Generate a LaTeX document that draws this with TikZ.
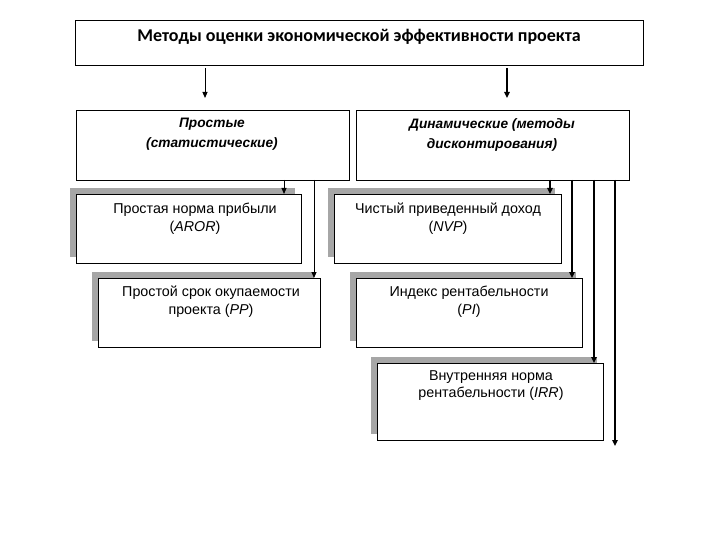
\documentclass[tikz,border=0pt]{standalone}
\usepackage{fontspec}
\setmainfont{Liberation Sans}
\newfontfamily\titlefont{Carlito}
\usetikzlibrary{shadows,arrows.meta}
\definecolor{shgray}{HTML}{A6A6A6}
\begin{document}
\begin{tikzpicture}[x=1pt,y=-1pt,
  box/.style={draw=black,line width=0.9pt,fill=white,rectangle,inner sep=0pt,outer sep=0pt},
  sbox/.style={box,drop shadow={shadow xshift=-6pt,shadow yshift=6pt,fill=shgray,opacity=1}},
  txt/.style={inner sep=0pt,anchor=north,align=center,font=\fontsize{14.3}{17.5}\selectfont},
  head/.style={inner sep=0pt,anchor=north,align=center,font=\fontsize{13.7}{20}\selectfont\bfseries\itshape},
  thinarr/.style={line width=1pt,-{Triangle[length=6pt,width=5pt]}},
  thickarr/.style={line width=2pt,-{Triangle[length=6pt,width=5.5pt]}}
]
\useasboundingbox (0,0) rectangle (720,540);
% boxes
\node[box,minimum width=568pt,minimum height=45pt] (top) at (359,42.5) {};
\node[box,minimum width=273pt,minimum height=70pt] (simple) at (212.5,145) {};
\node[box,minimum width=273pt,minimum height=70pt] (dyn) at (492.5,145) {};
\node[sbox,minimum width=225pt,minimum height=69pt] (aror) at (188.5,228.5) {};
\node[sbox,minimum width=222pt,minimum height=69pt] (pp) at (209,312.5) {};
\node[sbox,minimum width=227pt,minimum height=69pt] (nvp) at (447.5,228.5) {};
\node[sbox,minimum width=226pt,minimum height=69pt] (pi) at (469,312.5) {};
\node[sbox,minimum width=226pt,minimum height=77pt] (irr) at (490,401.5) {};
% texts
\node[inner sep=0pt,font=\titlefont\fontsize{18}{21}\selectfont\bfseries] (ttl) at (359,37) {Методы оценки экономической эффективности проекта};
\node[head] (tsimple) at (212,118) {Простые\\(статистические)};
\node[head] (tdyn) at (492,118) {Динамические (методы\\дисконтирования)};
\node[txt] (taror) at (195,203) {Простая норма прибыли\\(\textit{AROR})};
\node[txt] (tpp) at (211,286) {Простой срок окупаемости\\проекта (\textit{PP})};
\node[txt] (tnvp) at (448,203) {Чистый приведенный доход\\(\textit{NVP})};
\node[txt] (tpi) at (469,286) {Индекс рентабельности\\(\textit{PI})};
\node[txt] (tirr) at (491,370) {Внутренняя норма\\рентабельности (\textit{IRR})};
% column x positions
\coordinate (c1) at (205,0);
\coordinate (c2) at (507,0);
\coordinate (c3) at (284,0);
\coordinate (c4) at (314,0);
\coordinate (c5) at (550,0);
\coordinate (c6) at (572,0);
\coordinate (c7) at (594,0);
\coordinate (c8) at (615,0);
\coordinate (endfree) at (615,446);
% connectors
\draw[thinarr] ([yshift=-3pt]top.south -| c1) -- ([yshift=12pt]simple.north -| c1);
\draw[thickarr] ([yshift=-3pt]top.south -| c2) -- ([yshift=12pt]dyn.north -| c2);
\draw[thinarr] (simple.south -| c3) -- (aror.north -| c3);
\draw[thinarr] (simple.south -| c4) -- (pp.north -| c4);
\draw[thickarr] (dyn.south -| c5) -- (nvp.north -| c5);
\draw[thickarr] (dyn.south -| c6) -- (pi.north -| c6);
\draw[thickarr] (dyn.south -| c7) -- (irr.north -| c7);
\draw[thickarr] (dyn.south -| c8) -- (endfree);
\end{tikzpicture}
\end{document}
